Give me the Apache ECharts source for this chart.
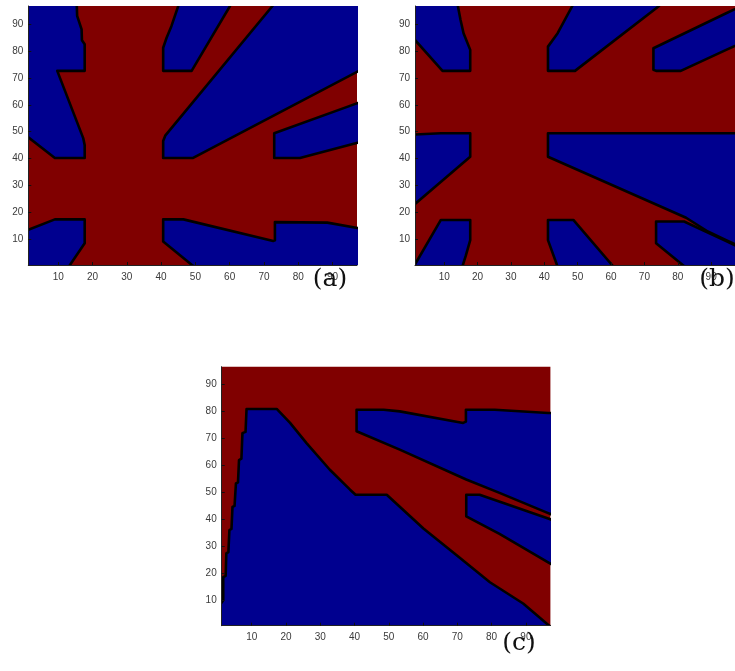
<!DOCTYPE html>
<html>
<head>
<meta charset="utf-8">
<style>
  html, body { margin: 0; padding: 0; background: #fff; }
  #chart { width: 735px; height: 671px; }
</style>
<script src="https://cdn.jsdelivr.net/npm/echarts@6/dist/echarts.min.js"></script>
</head>
<body>
<div id="chart"></div>
<script>
// Axis tick values shared by all three panels
const tickValues = [10, 20, 30, 40, 50, 60, 70, 80, 90];
// Visible data extent of each panel (matrix index space)
const xRange = [1.25, 97.15];
const yRange = [0.45, 96.7];

// Class-2 (blue) regions of panel (a); everything else is class 1 (red).
// Vertices outside the axis range are clipped away.
const regionsA1 = [[-5,105],[15.3,105],[15.4,96.7],[15.5,93],[16.8,88],[16.9,84],[17.7,82.5],[17.7,72.6],[9.7,72.6],[17.3,47.5],[17.7,45],[17.7,40.2],[9,40.2],[1.25,47.9],[-5,54]];
const regionsA2 = [[-5,10.4],[1.25,13.5],[9,17.4],[17.7,17.4],[17.7,8.5],[13.4,0.45],[10.4,-5],[-5,-5]];
const regionsA3 = [[45,96.7],[43,89.2],[41.6,84.9],[40.6,81.2],[40.6,72.6],[48.9,72.6],[60.1,96.7],[60.1,105],[45,105]];
const regionsA4 = [[72.5,96.7],[41.2,48.5],[40.6,46.5],[40.6,40.2],[49.2,40.2],[97.3,72.3],[110,80],[110,110],[72.5,110]];
const regionsA5 = [[73,49.4],[73,40.2],[80.5,40.2],[97.3,45.9],[110,48],[110,62],[97.3,60.6]];
const regionsA6 = [[40.6,17.4],[46.5,17.4],[72.7,9.4],[73.2,9.6],[73.2,16.4],[88.5,16.2],[97.3,14.2],[110,13],[110,-5],[55,-5],[49,0.45],[40.6,9.2]];

// Panel (b)
const regionsB1 = [[-5,92.8],[9.5,72.6],[17.8,72.6],[17.8,80.4],[15.8,86.6],[14.9,91.5],[14.1,96.7],[13.5,105],[-5,105]];
const regionsB2 = [[-5,48.6],[9,49.4],[17.8,49.4],[17.8,40.7],[1.25,23.1],[-5,16.5]];
const regionsB3 = [[9,17.2],[17.8,17.2],[17.8,9.7],[16.5,4],[15.6,0.45],[14.6,-5],[-1.4,-5],[1.4,1]];
const regionsB4 = [[48.4,96.7],[44,86.6],[41.1,81.6],[41.1,72.6],[49.2,72.6],[74.4,96.7],[74.4,105],[48.4,105]];
const regionsB5 = [[72.7,81],[72.7,73],[73.5,72.6],[80.9,72.6],[94.5,80.4],[110,89.2],[110,103],[94.5,94]];
const regionsB6 = [[41.1,49.4],[110,49.4],[110,0.8],[94.5,9.7],[89,12.9],[82.5,18],[41.1,40.7]];
const regionsB7 = [[41.1,17.2],[48.7,17.2],[60.3,0.45],[64,-5],[46,-5],[43.8,0.45],[41.1,9.7]];
const regionsB8 = [[73.5,16.6],[81.9,16.6],[89,12.5],[94.5,9.3],[110,0.4],[110,-5],[87,-5],[81.5,0.45],[73.5,8.5]];

// Panel (c)
const regionsC1 = [[-5,-5],[-5,9],[1.25,9],[1.7,10],[1.7,18.5],[2.4,19],[2.6,27.3],[3.2,27.8],[3.5,36],[4.1,36.4],[4.4,44.6],[5,45],[5.4,53.3],[6,53.7],[6.3,62],[7,62.5],[7.3,72],[8.2,72.5],[8.5,81],[17.3,81],[21.2,75.8],[26,68.3],[32.8,58.4],[38.7,51],[40.3,49.1],[49.4,49.1],[60.1,36.6],[69.8,26.6],[79.5,16.6],[89.2,8.7],[96.8,0.45],[105,-5]];
const regionsC2 = [[40.6,80.7],[48.5,80.7],[53.2,80.1],[71.7,75.8],[72.5,76.3],[72.5,80.7],[80.9,80.7],[96.5,79.5],[110,79.5],[110,35],[96.5,42.3],[82.3,49.8],[72.6,54.8],[53.2,65.9],[40.6,72.7]];
const regionsC3 = [[72.6,49.1],[76.5,49.1],[96.5,40.3],[110,34],[110,14],[96.5,24],[82.3,34.6],[72.6,41.1]];

const panelA = [regionsA1, regionsA2, regionsA3, regionsA4, regionsA5, regionsA6];
const panelB = [regionsB1, regionsB2, regionsB3, regionsB4, regionsB5, regionsB6, regionsB7, regionsB8];
const panelC = [regionsC1, regionsC2, regionsC3];
const panelLabels = ['(a)', '(b)', '(c)'];

const RED = '#800000';
const BLUE = '#00008f';

const chart = echarts.init(document.getElementById('chart'), null, { renderer: 'canvas' });

const grids = [
  { left: 28.3, top: 6, width: 328.7, height: 259 },
  { left: 415, top: 6, width: 328.7, height: 259 },
  { left: 221.7, top: 366.7, width: 328.7, height: 259 }
].map(g => Object.assign({ show: true, backgroundColor: RED, borderWidth: 0 }, g));

function xAxisFor(i) {
  return {
    type: 'value', gridIndex: i, min: xRange[0], max: xRange[1], z: 5,
    axisLine: { show: true, onZero: false, lineStyle: { color: '#222', width: 1 } },
    axisTick: { show: true, inside: true, length: 3, customValues: tickValues, lineStyle: { color: '#111' } },
    axisLabel: { customValues: tickValues, color: '#3a3a3a', fontSize: 10, fontFamily: 'Liberation Sans, Arial, sans-serif', margin: 7 },
    splitLine: { show: false }
  };
}
function yAxisFor(i) {
  return {
    type: 'value', gridIndex: i, min: yRange[0], max: yRange[1], z: 5,
    axisLine: { show: true, onZero: false, lineStyle: { color: '#222', width: 1 } },
    axisTick: { show: true, inside: true, length: 3, customValues: tickValues, lineStyle: { color: '#111' } },
    axisLabel: { customValues: tickValues, color: '#3a3a3a', fontSize: 10, fontFamily: 'Liberation Sans, Arial, sans-serif', margin: 5 },
    splitLine: { show: false }
  };
}

function regionSeries(i, polys) {
  return {
    type: 'custom',
    xAxisIndex: i,
    yAxisIndex: i,
    clip: true,
    silent: true,
    data: polys.map((p, k) => [p[0][0], p[0][1], k]),
    renderItem: function (params, api) {
      const poly = polys[params.dataIndex];
      return {
        type: 'polygon',
        shape: { points: poly.map(pt => api.coord(pt)) },
        style: { fill: BLUE, stroke: '#000', lineWidth: 2.6, lineJoin: 'round' }
      };
    }
  };
}

const labelPos = [[330, 279], [717, 279], [519, 643]];

chart.setOption({
  animation: false,
  backgroundColor: '#fff',
  grid: grids,
  xAxis: [0, 1, 2].map(xAxisFor),
  yAxis: [0, 1, 2].map(yAxisFor),
  series: [regionSeries(0, panelA), regionSeries(1, panelB), regionSeries(2, panelC)],
  graphic: panelLabels.map((t, i) => ({
    type: 'text',
    x: labelPos[i][0],
    y: labelPos[i][1],
    z: 10,
    style: {
      text: t,
      fill: '#111',
      font: '25px "DejaVu Serif", serif',
      align: 'center',
      verticalAlign: 'middle'
    }
  }))
});
</script>
</body>
</html>
